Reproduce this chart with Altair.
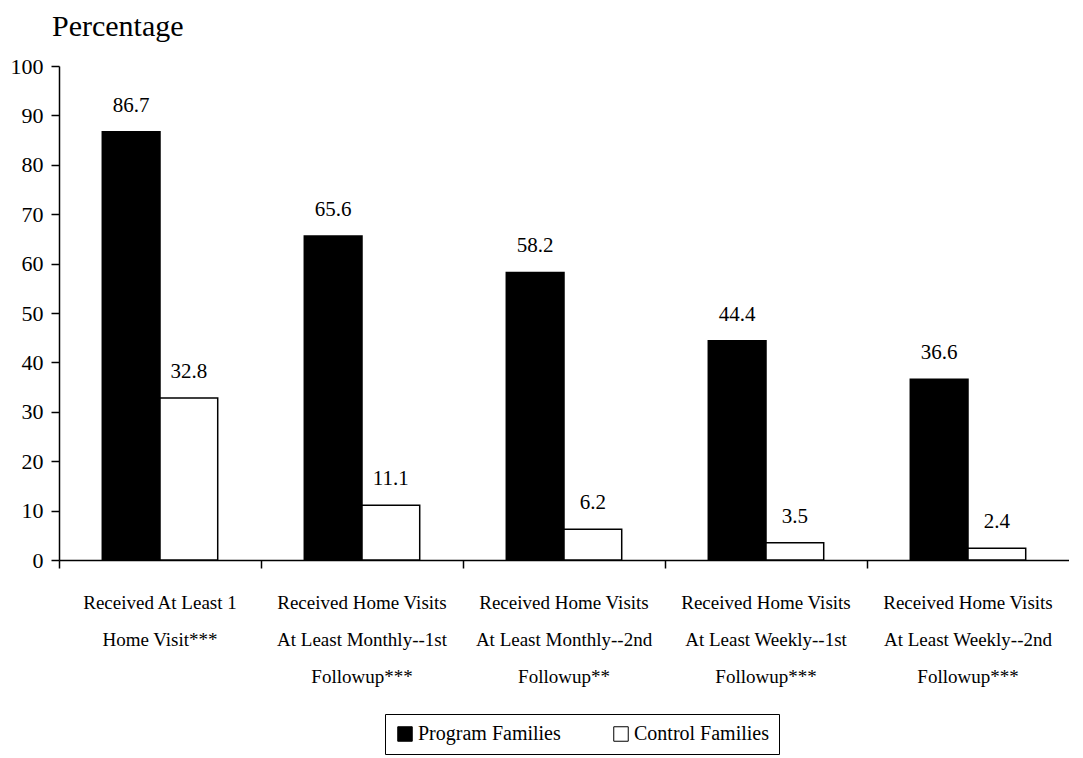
import altair as alt
import pandas as pd

categories = [
    "Received At Least 1|Home Visit***",
    "Received Home Visits|At Least Monthly--1st|Followup***",
    "Received Home Visits|At Least Monthly--2nd|Followup**",
    "Received Home Visits|At Least Weekly--1st|Followup***",
    "Received Home Visits|At Least Weekly--2nd|Followup***",
]
series = ["Program Families", "Control Families"]
program_values = [86.7, 65.6, 58.2, 44.4, 36.6]
control_values = [32.8, 11.1, 6.2, 3.5, 2.4]

rows = []
for c, p, k in zip(categories, program_values, control_values):
    rows.append({"cat": c, "series": series[0], "value": p})
    rows.append({"cat": c, "series": series[1], "value": k})
df = pd.DataFrame(rows)

FONT = "Liberation Serif"

x = alt.X("cat:N", sort=categories, title=None,
          scale=alt.Scale(paddingInner=0, paddingOuter=0),
          axis=alt.Axis(labelAngle=0, labelExpr="split(datum.label, '|')",
                        labelFontSize=19, labelLineHeight=37, labelPadding=25,
                        labelBaseline="top", labelColor="black", labelFont=FONT,
                        tickSize=8, tickColor="black", tickWidth=1.5, bandPosition=0,
                        domainColor="black", domainWidth=1.5, grid=False))
xo = alt.XOffset("series:N", sort=series,
                 scale=alt.Scale(paddingOuter=0.75, paddingInner=0))
y = alt.Y("value:Q", title=None,
          scale=alt.Scale(domain=[0, 100], nice=False),
          axis=alt.Axis(values=list(range(0, 101, 10)), labelFontSize=22,
                        labelFont=FONT, labelColor="black", labelPadding=8,
                        tickSize=8, tickColor="black", tickWidth=1.5,
                        domainColor="black", domainWidth=1.5, grid=False))
color = alt.Color("series:N", sort=series,
                  scale=alt.Scale(domain=series, range=["black", "white"]),
                  legend=alt.Legend(title=None, orient="none", legendX=326, legendY=648,
                                    direction="horizontal", strokeColor="black",
                                    padding=10, symbolType="square",
                                    symbolSize=210, symbolStrokeColor="black",
                                    symbolStrokeWidth=1, labelFontSize=20,
                                    labelFont=FONT, labelColor="black",
                                    columnPadding=50, labelOffset=3))

bars = alt.Chart(df).mark_bar(stroke="black", strokeWidth=1.5).encode(
    x=x, xOffset=xo, y=y, color=color)

labels = alt.Chart(df).mark_text(dy=-26, fontSize=21, font=FONT, color="black").encode(
    x=x, xOffset=xo, y=y, text=alt.Text("value:Q", format=".1f"))

chart = (bars + labels).properties(
    width=1010, height=494,
    padding={"left": 2, "top": 4, "right": 0, "bottom": 0},
    title=alt.TitleParams("Percentage", anchor="start", frame="group", dx=-7,
                          fontSize=30, font=FONT, fontWeight="normal", color="black",
                          offset=13),
).configure(background="white", view=alt.ViewConfig(stroke=None))

chart.save("out.html", embed_options={"renderer": "svg", "actions": False})
